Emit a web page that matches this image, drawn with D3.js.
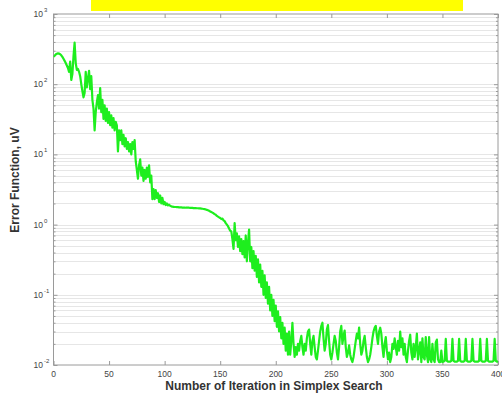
<!DOCTYPE html>
<html>
<head>
<meta charset="utf-8">
<script src="https://cdn.jsdelivr.net/npm/d3@7"></script>
<style>
  html, body { margin: 0; padding: 0; background: #fff; }
  svg { display: block; }
  text { font-family: "Liberation Sans", Arial, sans-serif; }
</style>
</head>
<body>
<svg id="chart" width="502" height="393"></svg>
<script>
// Error function per simplex iteration (index = iteration number)
const errorValues = [
  245, 255, 265, 272, 275, 273, 268, 258, 245, 230,
  215, 200, 185, 170, 150, 210, 115, 140, 250, 390,
  200, 160, 165, 150, 130, 100, 80, 65, 75, 150,
  90, 120, 155, 85, 130, 60, 45, 22, 40, 55,
  70, 45, 88, 40, 60, 32, 50, 30, 45, 28,
  40, 26, 36, 24, 33, 22, 29, 26, 11, 22,
  16, 22, 14, 19, 13, 17, 12, 15, 11, 14,
  10, 15, 12, 16, 8, 6, 4.5, 7, 8.5, 5,
  6.5, 4.2, 6, 4.5, 6.5, 4.8, 7, 4, 5, 2.3,
  3.2, 2.3, 3.1, 2.4, 2.8, 2.1, 2.6, 2.0, 2.4, 1.95,
  2.1, 1.9, 2.0, 1.88, 1.92, 1.85, 1.82, 1.80, 1.79, 1.78,
  1.78, 1.77, 1.77, 1.76, 1.76, 1.76, 1.75, 1.75, 1.75, 1.74,
  1.74, 1.74, 1.74, 1.73, 1.73, 1.73, 1.72, 1.72, 1.72, 1.71,
  1.71, 1.70, 1.70, 1.69, 1.68, 1.67, 1.66, 1.64, 1.62, 1.60,
  1.57, 1.54, 1.51, 1.48, 1.45, 1.41, 1.38, 1.33, 1.30, 1.27,
  1.24, 1.20, 1.22, 1.15, 1.12, 1.05, 1.0, 0.95, 0.88, 0.82,
  0.80, 0.62, 0.45, 1.05, 0.60, 0.75, 0.48, 0.68, 0.42, 0.62,
  0.38, 0.58, 0.34, 0.70, 0.30, 0.55, 0.85, 0.30, 0.48, 0.24,
  0.42, 0.22, 0.36, 0.18, 0.32, 0.15, 0.27, 0.13, 0.22, 0.10,
  0.19, 0.09, 0.15, 0.075, 0.13, 0.06, 0.10, 0.05, 0.085, 0.042,
  0.07, 0.035, 0.058, 0.03, 0.048, 0.024, 0.04, 0.02, 0.034, 0.016,
  0.028, 0.014, 0.03, 0.014, 0.022, 0.040, 0.020, 0.013, 0.018, 0.014,
  0.020, 0.016, 0.022, 0.026, 0.018, 0.014, 0.020, 0.016, 0.024, 0.030,
  0.032, 0.020, 0.014, 0.022, 0.026, 0.018, 0.013, 0.012, 0.016, 0.022,
  0.030, 0.036, 0.040, 0.024, 0.016, 0.020, 0.032, 0.037, 0.022, 0.014,
  0.012, 0.015, 0.020, 0.026, 0.022, 0.015, 0.012, 0.018, 0.030, 0.036,
  0.020, 0.026, 0.031, 0.018, 0.013, 0.015, 0.019, 0.014, 0.012, 0.011,
  0.013, 0.017, 0.022, 0.028, 0.024, 0.034, 0.020, 0.014, 0.016, 0.022,
  0.026, 0.018, 0.013, 0.011, 0.012, 0.014, 0.018, 0.024, 0.030, 0.034,
  0.036, 0.026, 0.020, 0.030, 0.034, 0.028, 0.018, 0.013, 0.020, 0.025,
  0.016, 0.012, 0.015, 0.011, 0.013, 0.020, 0.017, 0.024, 0.018, 0.014,
  0.022, 0.016, 0.030, 0.018, 0.024, 0.014, 0.020, 0.013, 0.011, 0.016,
  0.022, 0.027, 0.015, 0.012, 0.020, 0.013, 0.018, 0.028, 0.012, 0.016,
  0.021, 0.011, 0.024, 0.013, 0.012, 0.025, 0.014, 0.011, 0.025, 0.012,
  0.011, 0.020, 0.012, 0.011, 0.021, 0.023, 0.012, 0.011, 0.011, 0.016,
  0.011, 0.0112, 0.0115, 0.0235, 0.0115, 0.0112, 0.0112, 0.0112, 0.0115, 0.0235,
  0.0115, 0.0112, 0.0112, 0.0112, 0.0115, 0.0235, 0.0115, 0.0112, 0.0112, 0.0112,
  0.0115, 0.0235, 0.0115, 0.0112, 0.0112, 0.0112, 0.0115, 0.0235, 0.0115, 0.0112,
  0.0112, 0.0112, 0.0112, 0.0115, 0.0235, 0.0115, 0.0112, 0.0112, 0.0112, 0.0115,
  0.0235, 0.0115, 0.0112, 0.0112, 0.0112, 0.0112, 0.0115, 0.0235, 0.0115, 0.0112,
  0.0112
];

const xTicks = [0, 50, 100, 150, 200, 250, 300, 350, 400];
const yDecades = [-2, -1, 0, 1, 2, 3];
const xLabel = "Number of Iteration in Simplex Search";
const yLabel = "Error Function, uV";

const svg = d3.select("#chart");
const plotLeft = 53.5, plotRight = 498, plotTop = 14, plotBottom = 365;

const x = d3.scaleLinear().domain([0, 400]).range([plotLeft, plotRight]);
const y = d3.scaleLog().domain([0.01, 1000]).range([plotBottom, plotTop]);

// title banner
svg.append("rect").attr("x", 91).attr("y", 0).attr("width", 372).attr("height", 11)
  .attr("fill", "#ffff00");

// horizontal grid: decades and minor 2..9 lines
const minorVals = [];
for (let e = -2; e < 3; e++) for (let m = 2; m <= 9; m++) minorVals.push(m * Math.pow(10, e));
const majorVals = yDecades.map(e => Math.pow(10, e));

const grid = svg.append("g");
grid.selectAll("line.minor").data(minorVals).join("line")
  .attr("class", "minor")
  .attr("x1", plotLeft).attr("x2", plotRight)
  .attr("y1", d => Math.round(y(d)) + 0.5).attr("y2", d => Math.round(y(d)) + 0.5)
  .attr("stroke", "#cdcdcd").attr("stroke-width", 1).attr("stroke-dasharray", "1,1");
grid.selectAll("line.major").data(majorVals.slice(1, -1)).join("line")
  .attr("class", "major")
  .attr("x1", plotLeft).attr("x2", plotRight)
  .attr("y1", d => Math.round(y(d)) + 0.5).attr("y2", d => Math.round(y(d)) + 0.5)
  .attr("stroke", "#cdcdcd").attr("stroke-width", 1).attr("stroke-dasharray", "1,1");

// axes with inward ticks
const axisColor = "#9a9a9a";
function styleAxis(g) {
  g.select(".domain").remove();
  g.selectAll(".tick line").attr("stroke", axisColor);
}
svg.append("g").attr("transform", `translate(0,${plotBottom})`)
  .call(d3.axisBottom(x).tickValues(xTicks).tickSize(-4).tickFormat(""))
  .call(styleAxis);
svg.append("g").attr("transform", `translate(0,${plotTop})`)
  .call(d3.axisTop(x).tickValues(xTicks).tickSize(-4).tickFormat(""))
  .call(styleAxis);
svg.append("g").attr("transform", `translate(${plotLeft},0)`)
  .call(d3.axisLeft(y).tickValues(majorVals).tickSize(-4).tickFormat(""))
  .call(styleAxis);
svg.append("g").attr("transform", `translate(${plotLeft},0)`)
  .call(d3.axisLeft(y).tickValues(minorVals).tickSize(-2).tickFormat(""))
  .call(styleAxis);
svg.append("g").attr("transform", `translate(${plotRight},0)`)
  .call(d3.axisRight(y).tickValues(majorVals).tickSize(-4).tickFormat(""))
  .call(styleAxis);
svg.append("g").attr("transform", `translate(${plotRight},0)`)
  .call(d3.axisRight(y).tickValues(minorVals).tickSize(-2).tickFormat(""))
  .call(styleAxis);

// frame
svg.append("rect").attr("x", plotLeft).attr("y", plotTop)
  .attr("width", plotRight - plotLeft).attr("height", plotBottom - plotTop)
  .attr("fill", "none").attr("stroke", axisColor).attr("stroke-width", 1);

// data line
svg.append("clipPath").attr("id", "plotClip").append("rect")
  .attr("x", plotLeft).attr("y", plotTop - 2)
  .attr("width", plotRight - plotLeft).attr("height", plotBottom - plotTop + 2);
const line = d3.line().x((d, i) => x(i)).y(d => y(d));
svg.append("path").datum(errorValues)
  .attr("clip-path", "url(#plotClip)")
  .attr("fill", "none").attr("stroke", "#1eee1e").attr("stroke-width", 2.2)
  .attr("stroke-linejoin", "round")
  .attr("d", line);

// tick labels
const labelColor = "#444";
svg.append("g").selectAll("text").data(xTicks).join("text")
  .attr("x", d => x(d)).attr("y", 377)
  .attr("text-anchor", "middle").attr("font-size", 8.5).attr("fill", labelColor)
  .text(d => d);

const yl = svg.append("g").selectAll("g").data(yDecades).join("g")
  .attr("transform", d => `translate(43,${y(Math.pow(10, d)) + 3})`);
yl.append("text").attr("text-anchor", "end").attr("font-size", 8.5).attr("fill", labelColor)
  .text("10");
yl.append("text").attr("x", 1).attr("y", -5).attr("font-size", 6).attr("fill", labelColor)
  .text(d => d < 0 ? "-" + Math.abs(d) : d);

// axis titles
svg.append("text").attr("x", 274).attr("y", 390)
  .attr("text-anchor", "middle").attr("font-size", 12).attr("font-weight", "bold")
  .attr("fill", "#333").text(xLabel);
svg.append("text").attr("transform", "translate(19,180) rotate(-90)")
  .attr("text-anchor", "middle").attr("font-size", 12).attr("font-weight", "bold")
  .attr("fill", "#333").text(yLabel);
</script>
</body>
</html>
